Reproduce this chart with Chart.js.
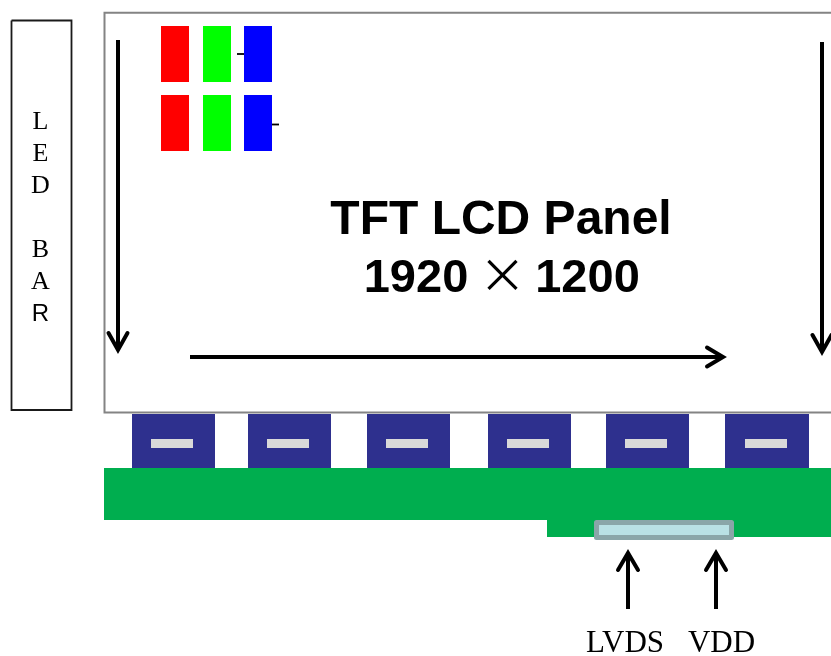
<!DOCTYPE html>
<html lang="en">
<head>
  <meta charset="UTF-8" />
  <title>TFT LCD Panel</title>
  <script src="https://cdn.jsdelivr.net/npm/chart.js"></script>
  <style>
    html, body { margin: 0; padding: 0; background: #fff; }
    canvas { display: block; }
  </style>
</head>
<body>
  <canvas id="chart" width="831" height="656"></canvas>

  <script>
    // rectangles are [x0, y0, x1, y1] in picture units
    const ledBar = [11.5, 20.5, 71.5, 410];
    const panel = [[840, 12.8], [104.5, 12.8], [104.5, 412.6], [840, 412.6]];

    const redCells = [[161, 26, 189, 82], [161, 95, 189, 151]];
    const greenCells = [[203, 26, 231, 82], [203, 95, 231, 151]];
    const blueCells = [[244, 26, 272, 82], [244, 95, 272, 151]];
    const cellTicks = [[[237, 54], [244, 54]], [[272, 124.5], [279, 124.5]]];

    const driverLeft = [132, 248, 367, 488, 606, 725];
    const driverRight = [215, 331, 450, 571, 689, 809];
    const driverTop = 414;
    const driverBottom = 468;
    const slotLeft = [151, 267, 386, 507, 625, 745];
    const slotRight = [193, 309, 428, 549, 667, 787];
    const slotTop = 439;
    const slotBottom = 448;

    const boardMain = [104, 468, 840, 520];
    const boardTab = [547, 520, 840, 537];
    const connector = [596.5, 522.5, 731.5, 537.5];

    const arrowLines = [
      [[118, 40], [118, 349]],
      [[822, 42], [822, 351]],
      [[190, 357], [721, 357]],
      [[628, 609], [628, 553]],
      [[716, 609], [716, 553]]
    ];
    const arrowHeads = [
      [[108.5, 333], [118, 350], [127.5, 333]],
      [[812.5, 335], [822, 352], [831.5, 335]],
      [[707, 347.5], [723, 357], [707, 366.5]],
      [[618, 570], [628, 553], [638, 570]],
      [[706, 570], [716, 553], [726, 570]]
    ];

    const ledLetters = ['L', 'E', 'D', 'B', 'A', 'R'];
    const ledLetterY = [129, 161, 193, 257, 289, 321];
    const ledLetterX = 40.5;

    const titleLines = ['TFT LCD Panel', '1920', '×', '1200'];
    const titleX = [501, 416, 502.5, 587.5];
    const titleY = [234, 292, 292, 292];

    const portLabels = ['LVDS', 'VDD'];
    const portX = [625, 721.5];
    const portY = [652, 652];

    function rect(r) {
      return [[r[0], r[1]], [r[2], r[1]], [r[2], r[3]], [r[0], r[3]], [r[0], r[1]]];
    }
    function pts(list) {
      return list.map(p => ({ x: p[0], y: p[1] }));
    }
    function filled(r, color) {
      return { data: pts(rect(r)), fill: 'shape', backgroundColor: color, borderWidth: 0 };
    }
    function stroked(list, color, width) {
      return { data: pts(list), fill: false, borderColor: color, borderWidth: width };
    }

    const datasets = [];
    datasets.push(stroked(rect(ledBar), '#1a1a1a', 1.8));
    datasets.push(stroked(panel, '#848484', 2));
    redCells.forEach(r => datasets.push(filled(r, '#ff0000')));
    greenCells.forEach(r => datasets.push(filled(r, '#00ff00')));
    cellTicks.forEach(l => datasets.push(stroked(l, '#000', 1.8)));
    blueCells.forEach(r => datasets.push(filled(r, '#0000ff')));
    driverLeft.forEach((x, i) => {
      datasets.push(filled([x, driverTop, driverRight[i], driverBottom], '#2e308e'));
      datasets.push(filled([slotLeft[i], slotTop, slotRight[i], slotBottom], '#d9d9d9'));
    });
    datasets.push(filled(boardMain, '#00ae4f'));
    datasets.push(filled(boardTab, '#00ae4f'));
    datasets.push({
      data: pts(rect(connector)), fill: 'shape', backgroundColor: '#b9e0e4',
      borderColor: '#8aa5a8', borderWidth: 5, borderJoinStyle: 'round', borderCapStyle: 'round'
    });
    arrowLines.forEach(l => datasets.push(stroked(l, '#000', 4)));
    arrowHeads.forEach(l => datasets.push({ ...stroked(l, '#000', 4), borderJoinStyle: 'miter', borderCapStyle: 'round' }));
    datasets.forEach((d, i) => { d.order = datasets.length - i; });

    const textPlugin = {
      id: 'diagramText',
      afterDatasetsDraw(chart) {
        const { ctx, scales: { x, y } } = chart;
        const put = (text, px, py, font) => {
          ctx.font = font;
          ctx.fillText(text, x.getPixelForValue(px), y.getPixelForValue(py));
        };
        ctx.save();
        ctx.fillStyle = '#000';
        ctx.textAlign = 'center';
        ctx.textBaseline = 'alphabetic';
        ledLetters.forEach((t, i) => {
          const font = t === 'R' ? '24px "Liberation Sans"' : '26px "Liberation Serif"';
          put(t, ledLetterX, ledLetterY[i], font);
        });
        titleLines.forEach((t, i) => {
          const font = t === '×' ? '47px "Noto Sans CJK SC"' : i === 0 ? 'bold 48px "Liberation Sans"' : 'bold 47px "Liberation Sans"';
          put(t, titleX[i], titleY[i], font);
        });
        portLabels.forEach((t, i) => put(t, portX[i], portY[i], '31px "Liberation Serif"'));
        ctx.restore();
      }
    };

    new Chart(document.getElementById('chart'), {
      type: 'scatter',
      data: { datasets },
      plugins: [textPlugin],
      options: {
        responsive: false,
        animation: false,
        showLine: true,
        pointRadius: 0,
        pointHoverRadius: 0,
        layout: { padding: 0 },
        events: [],
        elements: { line: { tension: 0 }, point: { radius: 0 } },
        plugins: { legend: { display: false }, tooltip: { enabled: false } },
        scales: {
          x: { type: 'linear', display: false, min: 0, max: 831 },
          y: { type: 'linear', display: false, min: 0, max: 656, reverse: true }
        }
      }
    });
  </script>
</body>
</html>
